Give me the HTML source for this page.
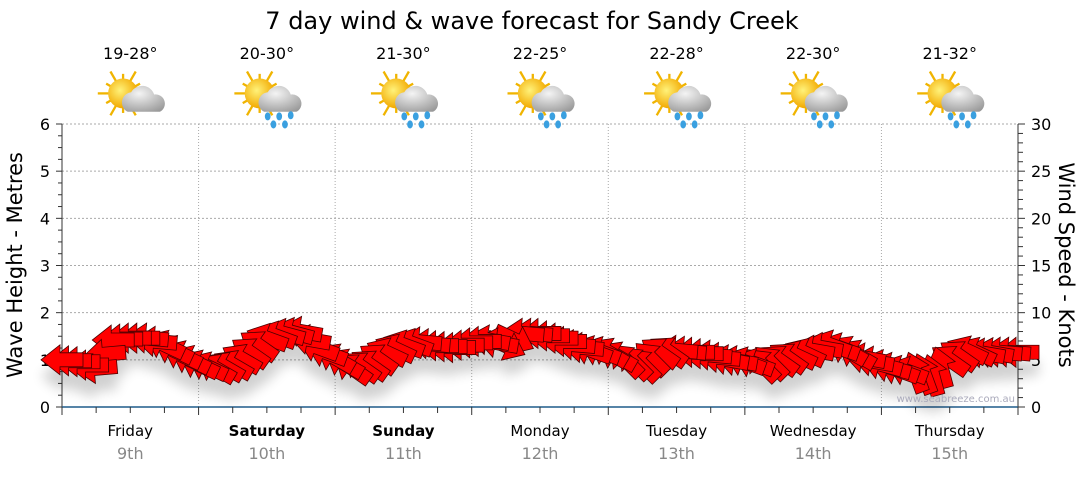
<!DOCTYPE html>
<html><head><meta charset="utf-8"><style>
body{margin:0;background:#fff;width:1080px;height:475px;overflow:hidden;font-family:"Liberation Sans","DejaVu Sans",sans-serif}
svg text{font-family:"DejaVu Sans","Liberation Sans",sans-serif}
</style></head><body>
<svg id="c" width="1080" height="475">
<defs>
<filter id="sh" x="-50%" y="-50%" width="200%" height="250%"><feGaussianBlur stdDeviation="6"/></filter>
<radialGradient id="cloud" cx="0.4" cy="0.3" r="0.8"><stop offset="0" stop-color="#f4f4f4"/><stop offset="1" stop-color="#9a9a9a"/></radialGradient>
<radialGradient id="sun" cx="0.4" cy="0.4" r="0.6"><stop offset="0" stop-color="#fff27a"/><stop offset="1" stop-color="#f2a900"/></radialGradient>
</defs>
<text x="532" y="29" text-anchor="middle" font-size="24" fill="#000">7 day wind &amp; wave forecast for Sandy Creek</text>
<g id="grid"></g><g id="axes"></g><g id="icons"></g>
<g id="shadow" filter="url(#sh)" opacity="0.18"></g>
<path id="wave" fill="none" stroke="#888" stroke-width="1"/>
<g id="arrows"></g>
<text x="1015" y="402" text-anchor="end" font-size="10" fill="#aab">www.seabreeze.com.au</text>
<text transform="translate(22,265) rotate(-90)" text-anchor="middle" font-size="21">Wave Height - Metres</text>
<text transform="translate(1059,265) rotate(90)" text-anchor="middle" font-size="21">Wind Speed - Knots</text>
</svg>
<script>
const days=["Friday","Saturday","Sunday","Monday","Tuesday","Wednesday","Thursday"];
const dates=["9th","10th","11th","12th","13th","14th","15th"];
const boldDays=[false,true,true,false,false,false,false];
const temps=["19-28°","20-30°","21-30°","22-25°","22-28°","22-30°","21-32°"];
const rain=[false,true,true,true,true,true,true];
const waveTicks=[0,1,2,3,4,5,6];
const windTicks=[0,5,10,15,20,25,30];
// wind every 3 hours (knots)
const windSpeed=[5.0,4.8,4.1,7.1,7.3,7.3,6.6,5.5, 4.5,4.1,4.5,5.8,7.3,7.8,8.0,6.3, 5.2,4.1,4.5,5.8,6.6,6.9,6.5,6.3, 6.8,7.1,6.5,7.8,7.8,7.3,6.6,6.0, 5.8,5.0,4.5,5.8,6.0,5.8,5.5,5.0, 4.8,4.5,5.0,5.5,6.0,6.6,6.0,5.2, 4.5,3.9,3.7,3.4,5.0,6.0,5.7,5.8,5.8];
// arrow heading in screen degrees (0=right,90=down,180=left,270=up)
const windDir=[180,180,175,180,180,185,205,205, 205,210,210,215,200,195,190,200, 210,215,215,205,200,185,180,180, 180,190,25,185,180,180,185,200, 210,225,225,215,185,180,185,190, 200,225,215,205,190,200,210,190, 195,200,250,255,215,205,190,185,180];
const waveHeight=[1.0,1.0,1.05,1.3,1.3,1.25,1.2,1.1, 1.0,0.95,1.0,1.2,1.45,1.45,1.4,1.25, 1.1,0.95,0.95,1.05,1.15,1.2,1.2,1.2, 1.25,1.3,1.3,1.35,1.35,1.3,1.25,1.2, 1.15,1.1,1.05,1.1,1.1,1.1,1.05,1.0, 1.0,1.0,1.0,1.05,1.1,1.15,1.1,1.05, 1.0,0.95,0.9,0.9,1.0,1.05,1.1,1.1,1.1];

const NS="http://www.w3.org/2000/svg";
const X0=62,X1=1018,Y0=407,Y1=124;
const xT=i=>X0+i*(X1-X0)/56;
const yW=m=>Y0-m*(Y0-Y1)/6;
const yK=k=>Y0-k*(Y0-Y1)/30;
function mk(t,a,p){const e=document.createElementNS(NS,t);for(const k in a)e.setAttribute(k,a[k]);(p||document.getElementById('c')).appendChild(e);return e;}
const grid=document.getElementById('grid'),axes=document.getElementById('axes'),icons=document.getElementById('icons');
waveTicks.forEach(m=>{
 if(m>0){const g=mk('line',{x1:X0,x2:X1,y1:yW(m),y2:yW(m),stroke:'#aaa','stroke-dasharray':'2,2'},grid);
 
 }
 const t=mk('text',{x:50,y:yW(m)+6,'text-anchor':'end','font-size':16,fill:'#000'},axes);t.textContent=m;
 
 
});
for(let q=0;q<=24;q++){const y=Y0-q*(Y0-Y1)/24;mk('line',{x1:q%4?58:56,x2:X0,y1:y,y2:y,stroke:'#333'},axes);}
for(let k=0;k<=30;k++){const y=yK(k);mk('line',{x1:X1,x2:k%5?1023:1025,y1:y,y2:y,stroke:'#333'},axes);}
windTicks.forEach(k=>{const t=mk('text',{x:1031,y:yK(k)+6,'font-size':16,fill:'#000'},axes);t.textContent=k;
 
 });
mk('line',{x1:X0,x2:X0,y1:Y1,y2:Y0,stroke:'#333'},axes);
mk('line',{x1:X1,x2:X1,y1:Y1,y2:Y0,stroke:'#333'},axes);
mk('line',{x1:X0,x2:X1,y1:Y0,y2:Y0,stroke:'#1f5b8a','stroke-width':1.5},axes);
for(let h=0;h<=28;h++){const x=X0+h*(X1-X0)/28;mk('line',{x1:x,x2:x,y1:Y0,y2:h%4?413:415,stroke:'#333'},axes);}
const dw=(X1-X0)/7;
days.forEach((d,i)=>{
 const cx=X0+dw*(i+0.5);
 if(i>0){const g=mk('line',{x1:X0+dw*i,x2:X0+dw*i,y1:Y1,y2:Y0,stroke:'#aaa','stroke-dasharray':'1,2'},grid);
 
 }
 const t=mk('text',{x:cx,y:436,'text-anchor':'middle','font-size':15,'font-weight':boldDays[i]?'bold':'normal'},axes);t.textContent=d;
 
 
 const t2=mk('text',{x:cx,y:459,'text-anchor':'middle','font-size':16,fill:'#888'},axes);t2.textContent=dates[i];
 
 
 const t3=mk('text',{x:cx,y:59,'text-anchor':'middle','font-size':16},icons);t3.textContent=temps[i];
 
 
 const g=mk('g',{transform:`translate(${cx+2},98) scale(1.15)`},icons);
 
 
 for(let r=0;r<12;r++){const a=r*30*Math.PI/180;mk('line',{x1:-8+Math.cos(a)*10,y1:-4+Math.sin(a)*10,x2:-8+Math.cos(a)*(r%2?17:22),y2:-4+Math.sin(a)*(r%2?17:22),stroke:'#f0b400','stroke-width':2},g);}
 mk('circle',{cx:-8,cy:-4,r:13,fill:'url(#sun)'},g);
 mk('path',{d:'M-4,12 a9,9 0 0 1 3,-17 a11,11 0 0 1 20,2 a8,8 0 0 1 5,15 z',fill:'url(#cloud)'},g);
 if(rain[i]){[[-1,16],[9,16],[19,15],[4,23],[14,23]].forEach(p=>mk('ellipse',{cx:p[0],cy:p[1],rx:2.5,ry:3.5,fill:'#3aa0e0'},g));}
});
let d='';waveHeight.forEach((m,i)=>{d+=(i?'L':'M')+xT(i)+','+yW(m);});
const wv=document.getElementById('wave');wv.setAttribute('d',d);


const A='M-21,0 L-2,-15 L-2,-7 L21,-7 L21,7 L-2,7 L-2,15 Z';
const ag=document.getElementById('arrows'),sg=document.getElementById('shadow');
function drawArrow(x,y,r){
 mk('path',{d:A,fill:'#000',transform:`translate(${x},${y+16}) rotate(${r})`},sg);
 const p=mk('path',{d:A,fill:'#ff0000',stroke:'#4a0000','stroke-width':0.8,transform:`translate(${x},${y}) rotate(${r})`},ag);
 
 
}
// render each 3h reading plus one in-between step (right to left so left arrows sit on top)
for(let i=windSpeed.length-1;i>=0;i--){
 const steps=i<windSpeed.length-1?2:1;
 for(let s=steps-1;s>=0;s--){
  const f=s/2,j=Math.min(i+1,windSpeed.length-1);
  const k=windSpeed[i]+(windSpeed[j]-windSpeed[i])*f;
  drawArrow(xT(i+f),yK(k),windDir[i]-180);
 }
}
</script>
</body></html>
